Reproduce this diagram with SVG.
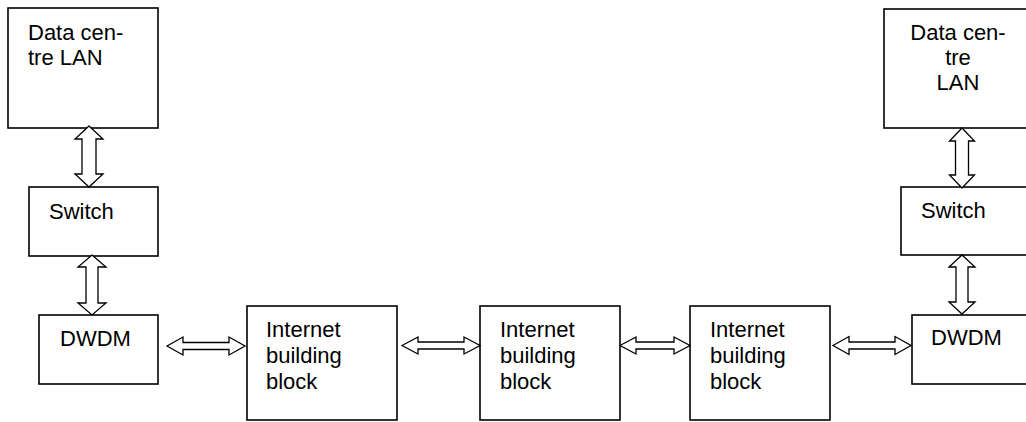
<svg xmlns="http://www.w3.org/2000/svg" width="1026" height="422" viewBox="0 0 1026 422">
<style>
.box{fill:#fff;stroke:#000;stroke-width:1.6}
.arr{fill:#fff;stroke:#000;stroke-width:1.3;stroke-linejoin:miter}
text{font-family:"Liberation Sans",Arial,sans-serif;font-size:22px;fill:#000}
</style>
<rect width="1026" height="422" fill="#fff"/>
<g id="lan-left"><rect class="box" x="8" y="8" width="150" height="120"/><text x="28" y="40">Data cen-</text><text x="28" y="65">tre LAN</text></g>
<g id="switch-left"><rect class="box" x="29" y="187" width="129" height="69"/><text x="49" y="219">Switch</text></g>
<g id="dwdm-left"><rect class="box" x="39" y="315" width="119" height="69"/><text x="60" y="346">DWDM</text></g>
<g id="ibb-1"><rect class="box" x="247" y="306" width="150" height="114"/><text x="266" y="337">Internet</text><text x="266" y="363">building</text><text x="266" y="389">block</text></g>
<g id="ibb-2"><rect class="box" x="480" y="306" width="140" height="114"/><text x="500" y="337">Internet</text><text x="500" y="363">building</text><text x="500" y="389">block</text></g>
<g id="ibb-3"><rect class="box" x="690" y="306" width="140" height="114"/><text x="710" y="337">Internet</text><text x="710" y="363">building</text><text x="710" y="389">block</text></g>
<g id="dwdm-right"><rect class="box" x="912" y="315" width="130" height="69"/><text x="931" y="345">DWDM</text></g>
<g id="switch-right"><rect class="box" x="901" y="187" width="140" height="68"/><text x="921" y="218">Switch</text></g>
<g id="lan-right"><rect class="box" x="884" y="9" width="160" height="119"/><text x="958" y="40" text-anchor="middle">Data cen-</text><text x="958" y="65" text-anchor="middle">tre</text><text x="958" y="90" text-anchor="middle">LAN</text></g>
<g id="connectors">
<polygon class="arr" points="89,126 103,139 96,139 96,174 103,174 89,187 75,174 82,174 82,139 75,139"/>
<polygon class="arr" points="92,255 106,267 98,267 98,303 106,303 92,315 78,303 86,303 86,267 78,267"/>
<polygon class="arr" points="962,128 974.5,141 968.5,141 968.5,175 974.5,175 962,188 949.5,175 955.5,175 955.5,141 949.5,141"/>
<polygon class="arr" points="962,255 975,267 968,267 968,302 975,302 962,314 949,302 956,302 956,267 949,267"/>
<polygon class="arr" points="167,346 183,337 183,342.5 229,342.5 229,337 245,346 229,355 229,349.5 183,349.5 183,355"/>
<polygon class="arr" points="402,345.5 418,337 418,342 464,342 464,337 480,345.5 464,354 464,349 418,349 418,354"/>
<polygon class="arr" points="620,345.5 636,337 636,342 674,342 674,337 690,345.5 674,354 674,349 636,349 636,354"/>
<polygon class="arr" points="833,345.5 849,336.5 849,342 895,342 895,336.5 911,345.5 895,354.5 895,349 849,349 849,354.5"/>
</g>
</svg>
